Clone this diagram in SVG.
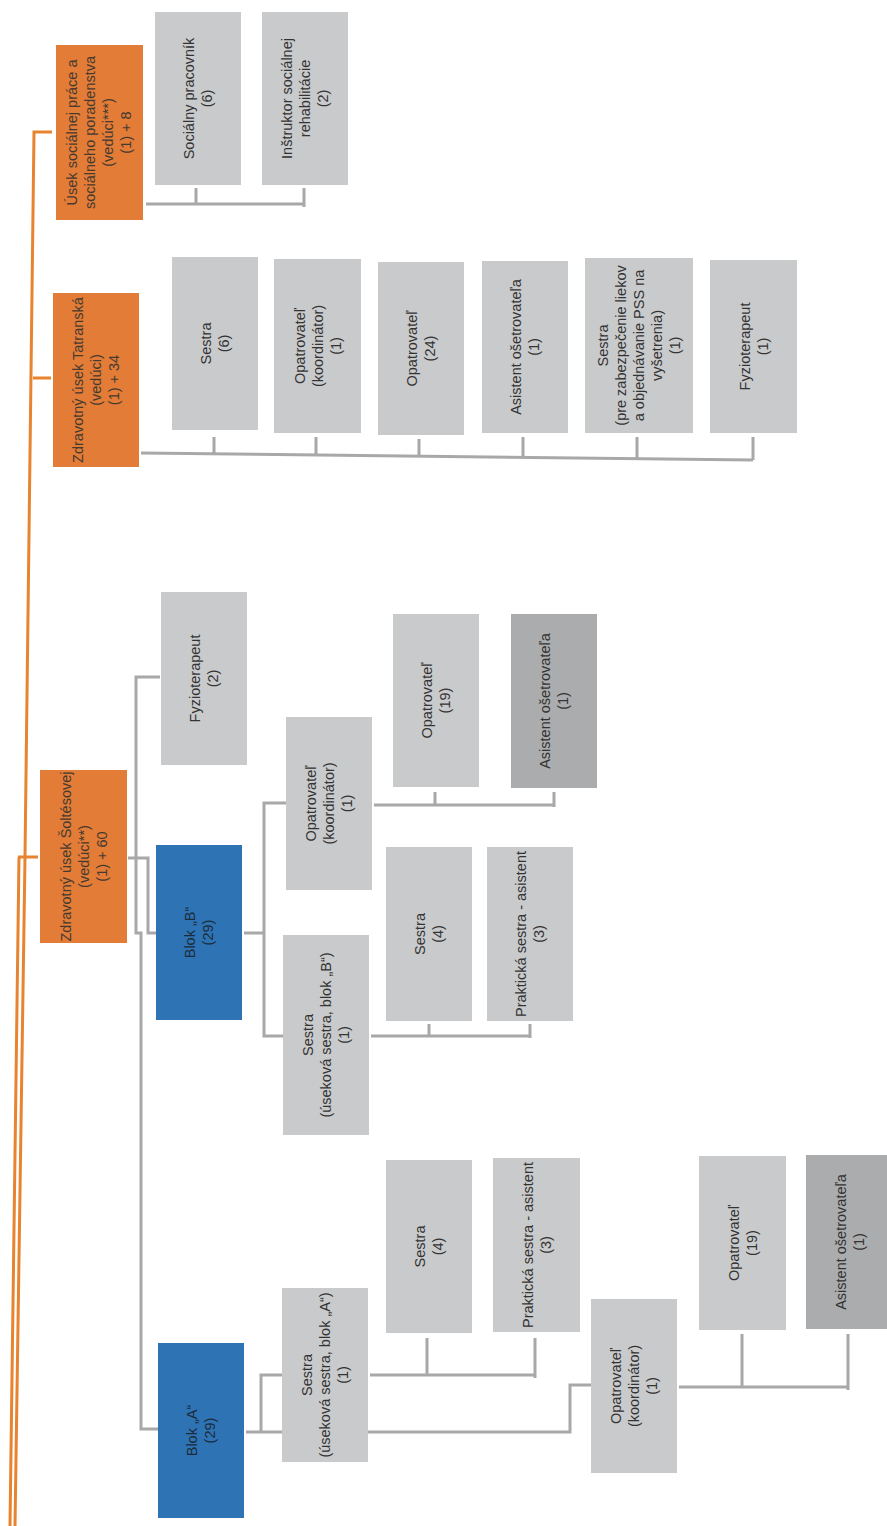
<svg xmlns="http://www.w3.org/2000/svg" width="887" height="1526" viewBox="0 0 887 1526">
<style>
.bx{stroke:none}
.or{fill:#e27c37}
.bl{fill:#2e74b5}
.gy{fill:#c9cacb}
.dg{fill:#abacad}
text{font-family:"Liberation Sans",Arial,sans-serif;font-size:14.5px;text-anchor:middle;fill:#333}
.to{fill:#463a30}
.tb{fill:#1d2b3a}
.cg{fill:none;stroke:#a8a8a8;stroke-width:3}
.co{fill:none;stroke:#e8832f;stroke-width:3}
</style>
<rect width="887" height="1526" fill="#ffffff"/>
<g id="connectors">
<path class="co" d="M52,132 H34 L25,857 L15,1526"/>
<path class="co" d="M33,378 H51"/>
<path class="co" d="M18,857 H38"/>
<path class="co" d="M19,857 L10,1526" stroke-width="2.5"/>
<path class="cg" d="M146,204 H304 M196,188 V204 M304,188 V207"/>
<path class="cg" d="M141,453 L753,460 M214,437 V454 M316,437 V455 M419,439 V456 M523,437 V457 M637,437 V458 M753,437 V460"/>
<path class="cg" d="M128,858 H148 V933 H156"/>
<path class="cg" d="M136,858 V677 H160"/>
<path class="cg" d="M136,858 V933 H141 L141,1429 H158"/>
<path class="cg" d="M244,933 H264 M286,803 H264 V1036 H283"/>
<path class="cg" d="M374,805 H554 M435,792 V805 M554,792 V807"/>
<path class="cg" d="M371,1036 H530 M429,1024 V1036 M530,1024 V1038"/>
<path class="cg" d="M246,1432 H570 V1385 H591"/>
<path class="cg" d="M261,1432 V1375 H282"/>
<path class="cg" d="M370,1375 H535 M427,1338 V1375 M535,1338 V1378"/>
<path class="cg" d="M679,1387 H848 M742,1334 V1387 M848,1334 V1390"/>
</g>
<g id="n-usek"><rect class="bx or" x="56" y="45" width="87" height="175"/><text class="to" transform="translate(99 132.5) rotate(-90)"><tspan x="0" y="-22">Úsek sociálnej práce a</tspan><tspan x="0" y="-4">sociálneho poradenstva</tspan><tspan x="0" y="14">(vedúci***)</tspan><tspan x="0" y="32">(1) + 8</tspan></text></g>
<g id="n-soc-prac"><rect class="bx gy" x="155" y="12" width="86" height="173"/><text transform="translate(198 98.5) rotate(-90)"><tspan x="0" y="-4">Sociálny pracovník</tspan><tspan x="0" y="14">(6)</tspan></text></g>
<g id="n-instr"><rect class="bx gy" x="262" y="12" width="86" height="173"/><text transform="translate(305 98.5) rotate(-90)"><tspan x="0" y="-13">Inštruktor sociálnej</tspan><tspan x="0" y="5">rehabilitácie</tspan><tspan x="0" y="23">(2)</tspan></text></g>
<g id="n-tatr"><rect class="bx or" x="53" y="293" width="86" height="174"/><text class="to" transform="translate(96 380) rotate(-90)"><tspan x="0" y="-13">Zdravotný úsek Tatranská</tspan><tspan x="0" y="5">(vedúci)</tspan><tspan x="0" y="23">(1) + 34</tspan></text></g>
<g id="n-t-sestra"><rect class="bx gy" x="172" y="257" width="86" height="173"/><text transform="translate(215 343.5) rotate(-90)"><tspan x="0" y="-4">Sestra</tspan><tspan x="0" y="14">(6)</tspan></text></g>
<g id="n-t-opkoord"><rect class="bx gy" x="274" y="259" width="87" height="174"/><text transform="translate(317.5 346) rotate(-90)"><tspan x="0" y="-13">Opatrovateľ</tspan><tspan x="0" y="5">(koordinátor)</tspan><tspan x="0" y="23">(1)</tspan></text></g>
<g id="n-t-opatr"><rect class="bx gy" x="378" y="262" width="86" height="173"/><text transform="translate(421 348.5) rotate(-90)"><tspan x="0" y="-4">Opatrovateľ</tspan><tspan x="0" y="14">(24)</tspan></text></g>
<g id="n-t-asist"><rect class="bx gy" x="482" y="261" width="86" height="172"/><text transform="translate(525 347) rotate(-90)"><tspan x="0" y="-4">Asistent ošetrovateľa</tspan><tspan x="0" y="14">(1)</tspan></text></g>
<g id="n-t-sestra-pre"><rect class="bx gy" x="585" y="258" width="108" height="175"/><text transform="translate(639 345.5) rotate(-90)"><tspan x="0" y="-31">Sestra</tspan><tspan x="0" y="-13">(pre zabezpečenie liekov</tspan><tspan x="0" y="5">a objednávanie PSS na</tspan><tspan x="0" y="23">vyšetrenia)</tspan><tspan x="0" y="41">(1)</tspan></text></g>
<g id="n-t-fyzio"><rect class="bx gy" x="710" y="260" width="87" height="173"/><text transform="translate(753.5 346.5) rotate(-90)"><tspan x="0" y="-4">Fyzioterapeut</tspan><tspan x="0" y="14">(1)</tspan></text></g>
<g id="n-solt"><rect class="bx or" x="40" y="770" width="87" height="173"/><text class="to" transform="translate(83.5 856.5) rotate(-90)"><tspan x="0" y="-13">Zdravotný úsek Šoltésovej</tspan><tspan x="0" y="5">(vedúci**)</tspan><tspan x="0" y="23">(1) + 60</tspan></text></g>
<g id="n-s-fyzio"><rect class="bx gy" x="161" y="592" width="86" height="173"/><text transform="translate(204 678.5) rotate(-90)"><tspan x="0" y="-4">Fyzioterapeut</tspan><tspan x="0" y="14">(2)</tspan></text></g>
<g id="n-blokB"><rect class="bx bl" x="156" y="845" width="86" height="175"/><text class="tb" transform="translate(199 932.5) rotate(-90)"><tspan x="0" y="-4">Blok „B“</tspan><tspan x="0" y="14">(29)</tspan></text></g>
<g id="n-b-opkoord"><rect class="bx gy" x="286" y="717" width="86" height="173"/><text transform="translate(329 803.5) rotate(-90)"><tspan x="0" y="-13">Opatrovateľ</tspan><tspan x="0" y="5">(koordinátor)</tspan><tspan x="0" y="23">(1)</tspan></text></g>
<g id="n-b-opatr"><rect class="bx gy" x="393" y="614" width="86" height="173"/><text transform="translate(436 700.5) rotate(-90)"><tspan x="0" y="-4">Opatrovateľ</tspan><tspan x="0" y="14">(19)</tspan></text></g>
<g id="n-b-asist"><rect class="bx dg" x="511" y="614" width="86" height="174"/><text transform="translate(554 701) rotate(-90)"><tspan x="0" y="-4">Asistent ošetrovateľa</tspan><tspan x="0" y="14">(1)</tspan></text></g>
<g id="n-b-sestra-us"><rect class="bx gy" x="283" y="935" width="86" height="200"/><text transform="translate(326 1035) rotate(-90)"><tspan x="0" y="-13">Sestra</tspan><tspan x="0" y="5">(úseková sestra, blok „B“)</tspan><tspan x="0" y="23">(1)</tspan></text></g>
<g id="n-b-sestra"><rect class="bx gy" x="386" y="847" width="86" height="174"/><text transform="translate(429 934) rotate(-90)"><tspan x="0" y="-4">Sestra</tspan><tspan x="0" y="14">(4)</tspan></text></g>
<g id="n-b-prakt"><rect class="bx gy" x="487" y="847" width="86" height="174"/><text transform="translate(530 934) rotate(-90)"><tspan x="0" y="-4">Praktická sestra - asistent</tspan><tspan x="0" y="14">(3)</tspan></text></g>
<g id="n-blokA"><rect class="bx bl" x="158" y="1343" width="86" height="175"/><text class="tb" transform="translate(201 1430.5) rotate(-90)"><tspan x="0" y="-4">Blok „A“</tspan><tspan x="0" y="14">(29)</tspan></text></g>
<g id="n-a-sestra-us"><rect class="bx gy" x="282" y="1288" width="86" height="174"/><text transform="translate(325 1375) rotate(-90)"><tspan x="0" y="-13">Sestra</tspan><tspan x="0" y="5">(úseková sestra, blok „A“)</tspan><tspan x="0" y="23">(1)</tspan></text></g>
<g id="n-a-sestra"><rect class="bx gy" x="386" y="1160" width="86" height="173"/><text transform="translate(429 1246.5) rotate(-90)"><tspan x="0" y="-4">Sestra</tspan><tspan x="0" y="14">(4)</tspan></text></g>
<g id="n-a-prakt"><rect class="bx gy" x="493" y="1158" width="87" height="174"/><text transform="translate(536.5 1245) rotate(-90)"><tspan x="0" y="-4">Praktická sestra - asistent</tspan><tspan x="0" y="14">(3)</tspan></text></g>
<g id="n-a-opkoord"><rect class="bx gy" x="591" y="1299" width="86" height="174"/><text transform="translate(634 1386) rotate(-90)"><tspan x="0" y="-13">Opatrovateľ</tspan><tspan x="0" y="5">(koordinátor)</tspan><tspan x="0" y="23">(1)</tspan></text></g>
<g id="n-a-opatr"><rect class="bx gy" x="699" y="1156" width="87" height="174"/><text transform="translate(742.5 1243) rotate(-90)"><tspan x="0" y="-4">Opatrovateľ</tspan><tspan x="0" y="14">(19)</tspan></text></g>
<g id="n-a-asist"><rect class="bx dg" x="806" y="1155" width="87" height="174"/><text transform="translate(849.5 1242) rotate(-90)"><tspan x="0" y="-4">Asistent ošetrovateľa</tspan><tspan x="0" y="14">(1)</tspan></text></g>
</svg>
